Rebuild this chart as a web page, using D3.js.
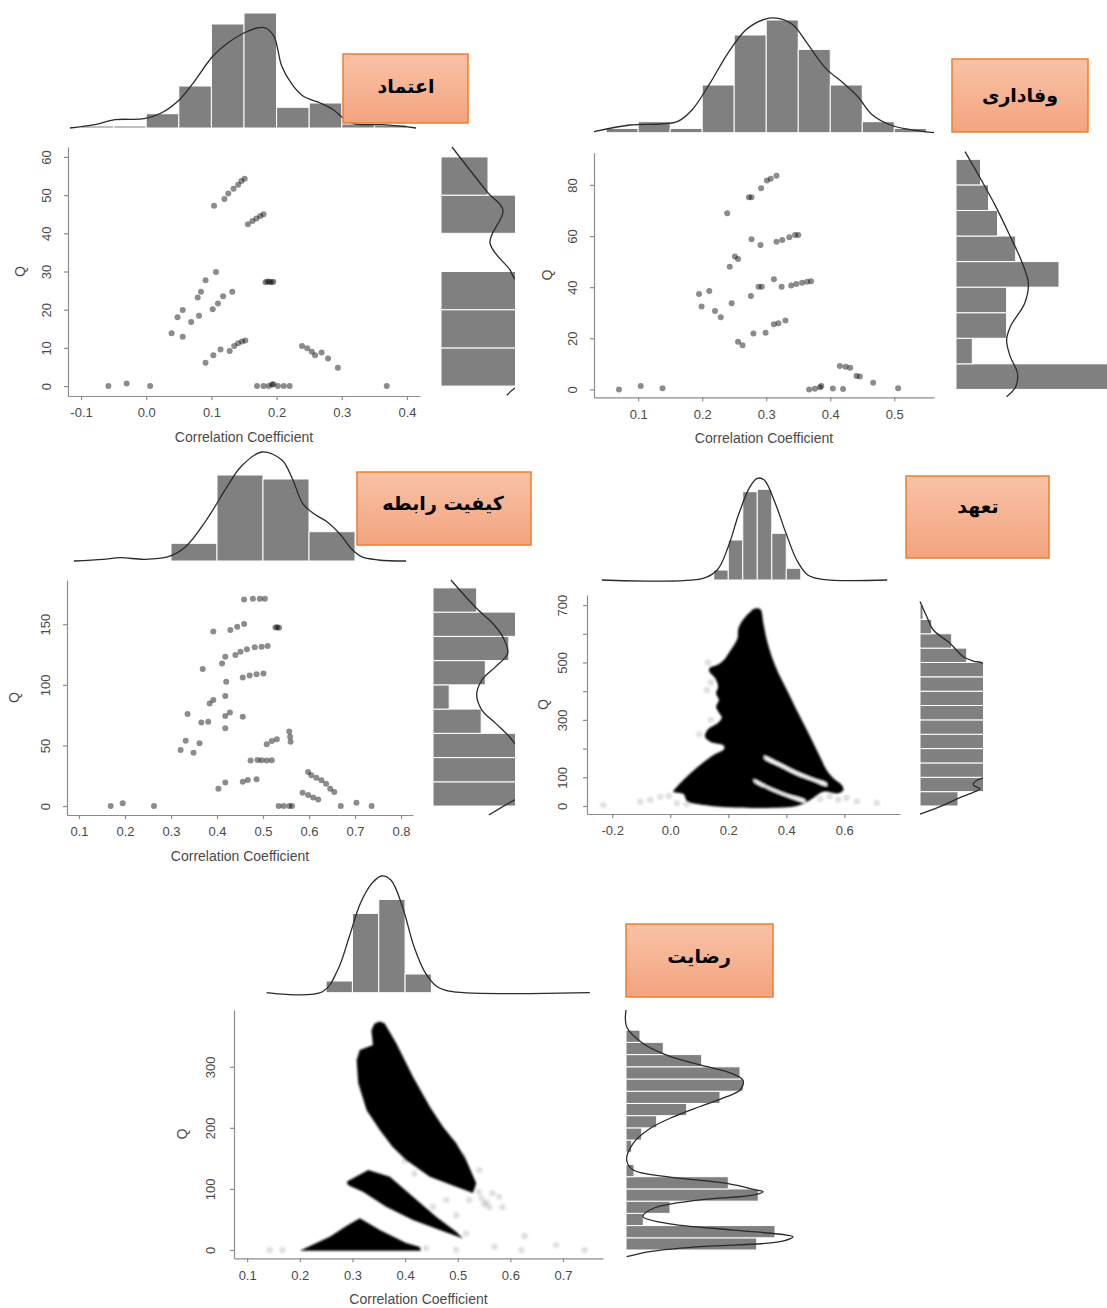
<!DOCTYPE html>
<html>
<head>
<meta charset="utf-8">
<script src="https://cdn.jsdelivr.net/npm/d3@7/dist/d3.min.js"></script>
<style>
body{margin:0;background:#fff}
svg{display:block}
</style>
</head>
<body>
<svg id="chart" width="1107" height="1308"></svg>
<script>

// -----------------------------
// DATA (x = correlation coefficient, Q)
// -----------------------------

const labels = ["اعتماد","وفاداری","کیفیت رابطه","تعهد","رضایت"]

// panel 1 : اعتماد
const p1Pts = [[-0.058,0],[-0.030,0.7],[0.006,0],[0.104,47.2],[0.120,49],[0.126,50.4],[0.134,51.7],[0.141,52.7],[0.146,53.7],[0.151,54.3],[0.156,42.4],[0.163,43.2],[0.169,43.9],[0.175,44.5],[0.180,45],[0.183,27.2],[0.186,27.4],[0.189,27.3],[0.192,27.2],[0.195,27.3],[0.107,29.9],[0.091,27.7],[0.084,24.7],[0.079,23.2],[0.056,19.9],[0.048,18],[0.069,16.8],[0.081,18.4],[0.102,20.1],[0.110,21.6],[0.118,23.5],[0.132,24.7],[0.039,13.8],[0.056,12.9],[0.091,6.1],[0.103,8.1],[0.114,9.6],[0.128,9.2],[0.135,10.5],[0.141,11.2],[0.147,11.7],[0.152,11.9],[0.239,10.5],[0.247,9.9],[0.254,9.0],[0.259,8.1],[0.269,8.8],[0.279,7.2],[0.294,4.8],[0.170,0],[0.180,0],[0.188,0],[0.193,0.4],[0.195,0.5],[0.202,0],[0.211,0],[0.220,0],[0.369,0]]
const p1TopEdges = [-0.10,-0.05,0,0.05,0.10,0.15,0.20,0.25,0.30,0.35,0.40]
const p1TopH = [2,2,14.3,42,104,115,20.7,25,4,3]
const p1TopCurveX = [-0.117,-0.079,-0.048,-0.003,0.023,0.051,0.074,0.102,0.125,0.150,0.170,0.183,0.196,0.208,0.224,0.241,0.267,0.287,0.302,0.318,0.363,0.414]
const p1TopCurveH = [0,3.3,8.3,9.3,15,28.3,46.7,71.7,85,95,100,100,91.7,61.7,43.3,31.7,25,18.3,10,4.3,3.3,0]
const p1RightEdges = [0,10,20,30,40,50,60]
const p1RightF = [188,150,132,0,85,47]
const p1RightCurveQ = [62.6,50.6,46.1,37.5,30.4,28,20,12,5,-0.5,-2.4]
const p1RightCurveF = [11,47,62,49,69,74,120,140,120,74,66]

// panel 2 : وفاداری
const p2Pts = [[0.07,0],[0.104,1.3],[0.138,0.4],[0.195,37.3],[0.211,38.5],[0.199,32.4],[0.22,30.7],[0.229,28.2],[0.239,68.9],[0.243,48],[0.251,52],[0.256,51],[0.246,33.7],[0.256,18.6],[0.263,17.3],[0.273,75.2],[0.277,75.2],[0.276,36.5],[0.28,21.9],[0.277,58.7],[0.291,56.5],[0.288,40.2],[0.293,40.2],[0.292,78.7],[0.301,81.7],[0.307,82.4],[0.316,83.6],[0.299,22.2],[0.312,43.1],[0.312,25.5],[0.319,25.9],[0.33,26.9],[0.316,57.8],[0.325,58.4],[0.324,40.2],[0.336,59.5],[0.345,60.4],[0.35,60.4],[0.339,40.6],[0.347,41.2],[0.356,41.7],[0.364,42.1],[0.37,42.3],[0.367,0],[0.376,0.2],[0.384,0.8],[0.386,1.3],[0.404,0.3],[0.42,0.1],[0.415,9.1],[0.424,8.9],[0.431,8.5],[0.441,5.2],[0.446,5],[0.467,2.6],[0.506,0.4]]
const p2TopEdges = [0.05,0.10,0.15,0.20,0.25,0.30,0.35,0.40,0.45,0.50,0.55]
const p2TopH = [4.3,11,4.3,47.7,97.7,112.7,83.3,47.7,11,4.3]
const p2TopCurveX = [0.031,0.087,0.133,0.161,0.184,0.212,0.240,0.268,0.297,0.319,0.342,0.364,0.393,0.421,0.443,0.466,0.494,0.523,0.562]
const p2TopCurveH = [1,7.7,8.7,11,22.7,49.3,79.3,102.7,113.3,114.3,107.7,89.3,64.3,49.3,36,17.7,7.7,3.3,0]
const p2RightEdges = [0,10,20,30,40,50,60,70,80,90]
const p2RightF = [175,16.3,50.6,50.6,103,59.7,41.6,32.5,24.6]
const p2RightCurveQ = [93,81.9,71.5,59.8,50.6,41.5,33.7,24.5,19.3,12.8,6.3,1,-2.9]
const p2RightCurveF = [9,25.3,39.8,54.3,65.1,72.3,68.7,54.3,50.6,54.3,61.5,59.7,50.6]

// panel 3 : کیفیت رابطه
const p3Pts = [[0.169,0],[0.195,2.2],[0.263,0],[0.321,46.2],[0.332,53.9],[0.336,75.9],[0.349,44],[0.362,51.7],[0.369,113.1],[0.366,69],[0.381,69.6],[0.384,84.6],[0.392,87.4],[0.392,144],[0.418,64.1],[0.418,74.3],[0.428,77.1],[0.418,90.8],[0.42,102.6],[0.411,117.7],[0.418,123.2],[0.429,145.3],[0.444,148],[0.459,150.2],[0.44,124.6],[0.451,127.4],[0.465,129.3],[0.482,131],[0.497,131.5],[0.51,132.1],[0.456,106.1],[0.471,107.7],[0.486,108.8],[0.501,109.4],[0.459,170.5],[0.478,171],[0.493,171],[0.504,171],[0.527,147.4],[0.531,147.6],[0.535,147.2],[0.456,73.6],[0.473,37.6],[0.488,37.9],[0.497,37.7],[0.508,37.6],[0.519,37.8],[0.403,14.3],[0.418,19.5],[0.456,20.1],[0.467,21.5],[0.486,22.1],[0.508,50.9],[0.519,53.6],[0.53,55],[0.557,61.4],[0.559,57.2],[0.56,53.1],[0.534,0],[0.545,0],[0.557,0],[0.563,0],[0.586,11],[0.598,9.1],[0.609,7.1],[0.62,5.4],[0.598,28.1],[0.605,25.3],[0.616,23.4],[0.627,21.2],[0.637,18.4],[0.646,14.3],[0.655,11.5],[0.669,0],[0.703,2.8],[0.736,0]]
const p3TopEdges = [0.3,0.4,0.5,0.6,0.7]
const p3TopH = [17.7,86,82,29.3]
const p3TopCurveX = [0.089,0.152,0.19,0.242,0.294,0.332,0.377,0.422,0.452,0.497,0.541,0.564,0.586,0.609,0.639,0.669,0.691,0.714,0.751,0.811]
const p3TopCurveH = [0,1.7,3.3,1.7,4.3,14.3,41,74.3,94.3,109,101,82,57.7,47.7,39.3,26,12.7,4.3,1,0]
const p3RightEdges = [0,20,40,60,80,100,120,140,160,180]
const p3RightF = [120,120,120,48.2,16.2,52.3,75.8,120,43.7]
const p3RightCurveQ = [186.5,164.4,147.9,137,126,115,104,91.6,79.2,68.2,57.2,51.7,35,22,12,5,-7.4]
const p3RightCurveF = [17.9,42,62.7,71.3,74.7,62.7,48.9,43.7,48.9,62.7,76.4,81.6,100,110,100,81.6,55.8]

// panel 4 : تعهد (dense cloud outline, white gaps, faint outliers)
const p4Cloud = [[0.281,681],[0.287,686],[0.31,686],[0.321,637],[0.333,578],[0.35,520],[0.373,462],[0.402,404],[0.43,346],[0.459,288],[0.488,230],[0.516,172],[0.539,125],[0.562,96.5],[0.591,73],[0.597,56],[0.579,44],[0.528,50],[0.482,21],[0.447,3.5],[0.402,-4.6],[0.195,-4.6],[0.115,3.5],[0.092,7],[0.057,18.6],[0.046,42],[0.011,50],[0.023,67],[0.057,102],[0.103,143],[0.149,178],[0.185,198],[0.185,210],[0.138,224],[0.12,241],[0.128,265],[0.165,290],[0.178,308],[0.168,325],[0.158,346],[0.168,369],[0.158,393],[0.165,416],[0.155,445],[0.135,468],[0.135,480],[0.165,493],[0.19,515],[0.205,538],[0.22,561],[0.232,584],[0.235,619],[0.255,654]]
const p4GapA = [[0.324,174],[0.379,149],[0.436,120],[0.494,96.5],[0.539,79],[0.539,70],[0.494,86],[0.436,108],[0.379,137],[0.326,164]]
const p4GapB = [[0.287,93],[0.344,65],[0.402,42],[0.465,21],[0.465,13],[0.402,32],[0.344,56],[0.29,84]]
const p4Faint = [[-0.23,3.5],[-0.103,15],[-0.069,20.9],[-0.034,32.5],[-0.005,34.8],[0.023,9.3],[0.057,5.8],[0.08,20],[0.517,24.4],[0.55,33.7],[0.579,22],[0.608,27.9],[0.643,16.2],[0.712,10.5],[0.126,404],[0.14,430],[0.1,250],[0.05,60],[0.13,500],[0.14,300]]
const p4TopEdges = [0.15,0.20,0.25,0.30,0.35,0.40,0.45]
const p4TopH = [10,40,88.3,90.7,46.7,11.7]
const p4TopCurveX = [-0.236,0.113,0.162,0.2,0.237,0.275,0.3,0.324,0.362,0.399,0.436,0.474,0.524,0.748]
const p4TopCurveH = [0,1.7,10,33.3,66.7,93.3,101.7,100,76.7,46.7,20,5,0.7,0]
const p4RightEdges = [0,50,100,150,200,250,300,350,400,450,500,550,600,650,700]
const p4RightF = [38,80,90,95,100,100,100,100,95,90,46.7,31.7,11.7,3]
const p4RightCurveQ = [712,660,613,567,520,505,497,400,300,200,120,96.5,85,73,60,50,26.7,-2.3,-28]
const p4RightCurveF = [0,6.7,13.3,30,43.3,53.3,63.3,100,115,110,80,61.7,55,53.3,60,55,38.3,20,0]

// panel 5 : رضایت
const p5CloudTop = [[0.342,371],[0.352,374],[0.361,371.5],[0.383,338.8],[0.415,283.6],[0.447,234.5],[0.472,201.8],[0.497,175],[0.516,147.3],[0.535,109.7],[0.529,93.3],[0.497,103.6],[0.447,120],[0.402,147.3],[0.376,169],[0.352,196.4],[0.327,229],[0.311,273.3],[0.308,311],[0.314,327.3],[0.339,335.5],[0.336,360]]
const p5CloudMid = [[0.289,111.8],[0.33,131],[0.371,120],[0.415,87],[0.459,54.5],[0.497,30],[0.51,19],[0.466,32.7],[0.415,49],[0.364,71],[0.32,95.4],[0.292,106]]
const p5CloudLow = [[0.2,-1.1],[0.257,21.8],[0.29,40],[0.314,51.9],[0.352,32.7],[0.402,11.5],[0.428,4.9],[0.43,-1.1]]
const p5Faint = [[0.143,0],[0.167,0],[0.44,2.7],[0.497,0],[0.57,5.5],[0.627,22.9],[0.621,0],[0.687,8],[0.741,0],[0.491,174],[0.51,153],[0.541,131],[0.566,93],[0.579,87],[0.522,82],[0.478,82],[0.497,57],[0.516,27],[0.453,71],[0.418,125],[0.4,147],[0.55,75],[0.56,70],[0.53,105],[0.545,85],[0.555,78],[0.585,70],[0.54,95]]
const p5TopEdges = [0.25,0.30,0.35,0.40,0.45]
const p5TopH = [11.7,79.3,93.3,18.7]
const p5TopCurveX = [0.137,0.243,0.272,0.294,0.315,0.337,0.355,0.373,0.395,0.417,0.439,0.461,0.49,0.751]
const p5TopCurveH = [0,1,22.7,56,89.3,109.3,116.7,112.7,86,46,19.3,6,1,0]
const p5RightEdges = [0,20,40,60,80,100,120,140,160,180,200,220,240,260,280,300,320,340,360,380]
const p5RightF = [130.7,149,17.3,44,132.3,102.3,8,0,5.7,15.7,30.7,60.7,94,117.3,114,75.7,37.3,14,0.7]
const p5RightCurveQ = [393,365,338,319,303,292,278,262,251,235,218,199,175,147,131,120,109,98,95.5,90,82,68,54.5,43.6,32.7,24.5,21.8,13.6,5.5,-2.7,-11]
const p5RightCurveF = [0,0.7,17,40.7,74,100.7,117,114,100.7,74,47.3,24,7.3,0.7,7.3,40.7,100.7,130.7,137,127,74,27,17,40.7,107,160.7,167,154,74,24,0.7]

// ticks
const p1XTicks = [-0.1,0,0.1,0.2,0.3,0.4]
const p1YTicks = [0,10,20,30,40,50,60]
const p2XTicks = [0.1,0.2,0.3,0.4,0.5]
const p2YTicks = [0,20,40,60,80]
const p3XTicks = [0.1,0.2,0.3,0.4,0.5,0.6,0.7,0.8]
const p3YTicks = [0,50,100,150]
const p4XTicks = [-0.2,0,0.2,0.4,0.6]
const p4YTicks = [0,100,200,300,400,500,600,700]
const p4YLabeled = [0,100,300,500,700]
const p5XTicks = [0.1,0.2,0.3,0.4,0.5,0.6,0.7]
const p5YTicks = [0,100,200,300]


// -----------------------------
// PANEL LAYOUT
// -----------------------------

const panels = [
{name:labels[0], pts:p1Pts, topEdges:p1TopEdges, topH:p1TopH, topCX:p1TopCurveX, topCH:p1TopCurveH,
 rEdges:p1RightEdges, rF:p1RightF, rCQ:p1RightCurveQ, rCF:p1RightCurveF,
 xDom:[-0.12,0.42], xRng:[68,420], yDom:[-2.6,62.6], yRng:[396,147],
 xTicks:p1XTicks, yTicks:p1YTicks, yLab:p1YTicks, yOff:22, qX:20,
 topBase:128, rightX:441, clipX:515, title:true,
 box:[343,54,125,69], boxText:[406,86]},
{name:labels[1], pts:p2Pts, topEdges:p2TopEdges, topH:p2TopH, topCX:p2TopCurveX, topCH:p2TopCurveH,
 rEdges:p2RightEdges, rF:p2RightF, rCQ:p2RightCurveQ, rCF:p2RightCurveF,
 xDom:[0.031,0.562], xRng:[594,934], yDom:[-3.1,92.6], yRng:[397.3,152.7],
 xTicks:p2XTicks, yTicks:p2YTicks, yLab:p2YTicks, yOff:22, qX:547,
 topBase:132.7, rightX:956, clipX:1107, title:true,
 box:[952,59,136,73], boxText:[1020,95]},
{name:labels[2], pts:p3Pts, topEdges:p3TopEdges, topH:p3TopH, topCX:p3TopCurveX, topCH:p3TopCurveH,
 rEdges:p3RightEdges, rF:p3RightF, rCQ:p3RightCurveQ, rCF:p3RightCurveF,
 xDom:[0.074,0.826], xRng:[67,413], yDom:[-7.4,186.5], yRng:[815,580],
 xTicks:p3XTicks, yTicks:p3YTicks, yLab:p3YTicks, yOff:22, qX:14,
 topBase:561, rightX:433, clipX:515, title:true,
 box:[357,472,174,73], boxText:[443,503]},
{name:labels[3], clouds:[p4Cloud], gaps:[p4GapA,p4GapB], faint:p4Faint, smoothCloud:true,
 topEdges:p4TopEdges, topH:p4TopH, topCX:p4TopCurveX, topCH:p4TopCurveH,
 rEdges:p4RightEdges, rF:p4RightF, rCQ:p4RightCurveQ, rCF:p4RightCurveF,
 xDom:[-0.287,0.792], xRng:[587,900], yDom:[-27.9,735], yRng:[814,595],
 xTicks:p4XTicks, yTicks:p4YTicks, yLab:p4YLabeled, yOff:25, qX:543,
 topBase:580, rightX:920, clipX:983, title:false,
 box:[906,476,143,82], boxText:[978,506]},
{name:labels[4], clouds:[p5CloudTop,p5CloudMid,p5CloudLow], gaps:[], faint:p5Faint, smoothCloud:false,
 topEdges:p5TopEdges, topH:p5TopH, topCX:p5TopCurveX, topCH:p5TopCurveH,
 rEdges:p5RightEdges, rF:p5RightF, rCQ:p5RightCurveQ, rCF:p5RightCurveF,
 xDom:[0.075,0.776], xRng:[234,603], yDom:[-13.6,393], yRng:[1258.3,1010],
 xTicks:p5XTicks, yTicks:p5YTicks, yLab:p5YTicks, yOff:24, qX:182,
 topBase:992.7, rightX:626, clipX:1107, title:true,
 box:[626,924,147,73], boxText:[699,956]}
]


// -----------------------------
// SETUP
// -----------------------------

const svg = d3.select("#chart")
const defs = svg.append("defs")

defs.append("filter").attr("id","soft")
.attr("x","-20%").attr("y","-20%").attr("width","140%").attr("height","140%")
.append("feGaussianBlur").attr("stdDeviation",0.6)

defs.append("filter").attr("id","cloudBlur")
.attr("x","-20%").attr("y","-20%").attr("width","140%").attr("height","140%")
.append("feGaussianBlur").attr("stdDeviation",1.2)

const grad = defs.append("linearGradient").attr("id","boxFill")
.attr("x1",0).attr("y1",0).attr("x2",0).attr("y2",1)
grad.append("stop").attr("offset","0%").attr("stop-color","#f8c2a6")
grad.append("stop").attr("offset","100%").attr("stop-color","#f3a47f")

const axisColor = "#8c8c8c"
const textColor = "#4a4a4a"
const fontFam = "'Liberation Sans', Arial, sans-serif"

panels.forEach((p,i)=>drawPanel(p,i))


// -----------------------------
// ONE PANEL
// -----------------------------

function drawPanel(p,idx){

const g = svg.append("g")

const x = d3.scaleLinear().domain(p.xDom).range(p.xRng)
const y = d3.scaleLinear().domain(p.yDom).range(p.yRng)

// marginal scales (no axes drawn for them)
const hy = d3.scaleLinear().domain([0,100]).range([p.topBase,p.topBase-100])
const hx = d3.scaleLinear().domain([0,100]).range([p.rightX,p.rightX+100])

const smooth = d3.curveCatmullRom.alpha(0.5)


// TOP HISTOGRAM

g.append("g").selectAll("rect")
.data(p.topH)
.join("rect")
.attr("x",(d,i)=>x(p.topEdges[i]))
.attr("width",(d,i)=>x(p.topEdges[i+1])-x(p.topEdges[i]))
.attr("y",d=>hy(d))
.attr("height",d=>hy(0)-hy(d))
.attr("fill","#808080")
.attr("stroke","#fff")
.attr("stroke-width",1)

g.append("path")
.datum(d3.zip(p.topCX,p.topCH))
.attr("fill","none")
.attr("stroke","#2a2a2a")
.attr("stroke-width",1.3)
.attr("d",d3.line().x(d=>x(d[0])).y(d=>hy(d[1])).curve(smooth))


// RIGHT HISTOGRAM (clipped like the original crop)

const clipId = "clip"+idx
defs.append("clipPath").attr("id",clipId)
.append("rect")
.attr("x",p.rightX-3).attr("y",0)
.attr("width",p.clipX-p.rightX+3).attr("height",1308)

const rg = g.append("g").attr("clip-path",`url(#${clipId})`)

rg.selectAll("rect")
.data(p.rF)
.join("rect")
.attr("x",hx(0))
.attr("y",(d,i)=>y(p.rEdges[i+1]))
.attr("height",(d,i)=>y(p.rEdges[i])-y(p.rEdges[i+1]))
.attr("width",d=>hx(d)-hx(0))
.attr("fill","#808080")
.attr("stroke","#fff")
.attr("stroke-width",1)

rg.append("path")
.datum(d3.zip(p.rCQ,p.rCF))
.attr("fill","none")
.attr("stroke","#2a2a2a")
.attr("stroke-width",1.3)
.attr("d",d3.line().x(d=>hx(d[1])).y(d=>y(d[0])).curve(smooth))


// SCATTER

if(p.pts){
g.append("g")
.attr("filter","url(#soft)")
.selectAll("circle")
.data(p.pts)
.join("circle")
.attr("cx",d=>x(d[0]))
.attr("cy",d=>y(d[1]))
.attr("r",3)
.attr("fill","#000")
.attr("fill-opacity",0.45)
}

if(p.clouds){
g.append("g")
.attr("filter","url(#cloudBlur)")
.selectAll("circle")
.data(p.faint)
.join("circle")
.attr("cx",d=>x(d[0]))
.attr("cy",d=>y(d[1]))
.attr("r",3.2)
.attr("fill","#000")
.attr("fill-opacity",0.12)

const shape = d3.line().x(d=>x(d[0])).y(d=>y(d[1]))
.curve(p.smoothCloud ? d3.curveCatmullRomClosed.alpha(0.5) : d3.curveLinearClosed)
const cg = g.append("g").attr("filter","url(#cloudBlur)")
cg.selectAll("path.c")
.data(p.clouds)
.join("path")
.attr("class","c")
.attr("d",shape)
.attr("fill","#000")
cg.selectAll("path.gap")
.data(p.gaps)
.join("path")
.attr("class","gap")
.attr("d",shape)
.attr("fill","#fff")
}


// AXES

const fmt = d=>d.toFixed(1)

const xAxis = g.append("g")
.attr("transform",`translate(0,${p.yRng[0]})`)
.call(d3.axisBottom(x).tickValues(p.xTicks).tickFormat(fmt).tickSize(4).tickSizeOuter(0).tickPadding(8))

const yAxis = g.append("g")
.attr("transform",`translate(${p.xRng[0]},0)`)
.call(d3.axisLeft(y).tickValues(p.yTicks)
.tickFormat(d=>p.yLab.includes(d)?String(d):"")
.tickSize(4).tickSizeOuter(0))

;[xAxis,yAxis].forEach(a=>{
a.select(".domain").attr("stroke",axisColor).attr("stroke-width",1.2)
a.selectAll(".tick line").attr("stroke",axisColor).attr("stroke-width",1.2)
a.selectAll("text")
.attr("fill",textColor)
.style("font-family",fontFam)
.style("font-size","13px")
})

yAxis.selectAll(".tick text")
.attr("transform","rotate(-90)")
.attr("x",0)
.attr("y",-p.yOff)
.attr("dy","0.35em")
.attr("text-anchor","middle")

const plotMidY = (p.yRng[0]+p.yRng[1])/2

g.append("text")
.attr("transform",`translate(${p.qX},${plotMidY}) rotate(-90)`)
.attr("text-anchor","middle")
.attr("dy","0.35em")
.attr("fill",textColor)
.style("font-family",fontFam)
.style("font-size","14px")
.text("Q")

if(p.title){
g.append("text")
.attr("x",(p.xRng[0]+p.xRng[1])/2)
.attr("y",p.yRng[0]+41)
.attr("dy","0.35em")
.attr("text-anchor","middle")
.attr("fill",textColor)
.style("font-family",fontFam)
.style("font-size","14px")
.text("Correlation Coefficient")
}


// LABEL BOX

g.append("rect")
.attr("x",p.box[0]).attr("y",p.box[1])
.attr("width",p.box[2]).attr("height",p.box[3])
.attr("fill","url(#boxFill)")
.attr("stroke","#ed7d31")
.attr("stroke-width",1.5)

g.append("text")
.attr("x",p.boxText[0])
.attr("y",p.boxText[1])
.attr("dy","0.35em")
.attr("text-anchor","middle")
.attr("direction","rtl")
.style("font-family","'DejaVu Sans', sans-serif")
.style("font-weight","bold")
.style("font-size","19px")
.attr("fill","#000")
.text(p.name)

}

</script>
</body>
</html>
